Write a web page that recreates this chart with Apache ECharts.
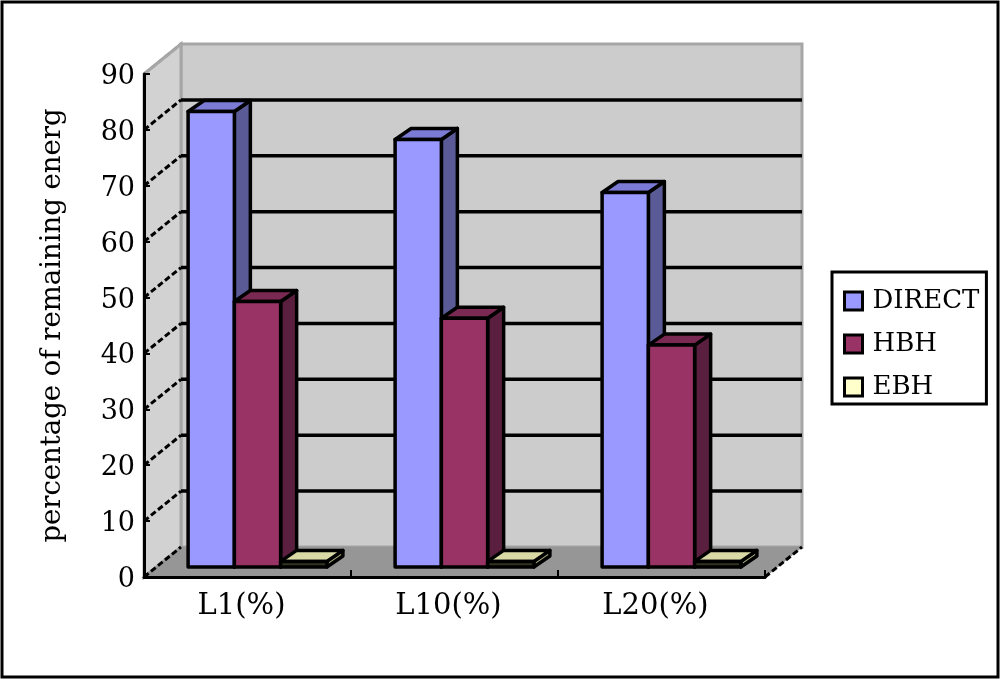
<!DOCTYPE html>
<html>
<head>
<meta charset="utf-8">
<script src="https://cdn.jsdelivr.net/npm/echarts@6/dist/echarts.min.js"></script>
<style>
html, body { margin: 0; padding: 0; background: #fff; }
#main { width: 1000px; height: 680px; }
</style>
</head>
<body>
<div id="main"></div>
<script>
const categories = ["L1(%)", "L10(%)", "L20(%)"];
const direct = [81.5, 76.5, 67];
const hbh = [47.5, 44.5, 39.7];
const ebh = [1, 1, 1];
const yTicks = [0, 10, 20, 30, 40, 50, 60, 70, 80, 90];

const FONT = "DejaVu Serif";
// depth of the fake 3d box and of the bars
const WALL_DX = 37, WALL_DY = -30;
const BAR_DX = 16, BAR_DY = -11;
const BAR_SHIFT_X = 10, BAR_SHIFT_Y = -10;
const BAR_RATIO = 0.2235;

function renderWalls(params, api) {
  const c = params.coordSys;
  const x0 = c.x, x1 = c.x + c.width, y0 = c.y, y1 = c.y + c.height;
  const grey = "#a6a6a6";
  return {
    type: "group",
    children: [
      { type: "polygon", shape: { points: [[x0 + WALL_DX, y0 + WALL_DY], [x1 + WALL_DX, y0 + WALL_DY], [x1 + WALL_DX, y1 + WALL_DY], [x0 + WALL_DX, y1 + WALL_DY]] },
        style: { fill: "#cccccc", stroke: grey, lineWidth: 3 } },
      { type: "polygon", shape: { points: [[x0, y0], [x0 + WALL_DX, y0 + WALL_DY], [x0 + WALL_DX, y1 + WALL_DY], [x0, y1]] },
        style: { fill: "#d2d2d2", stroke: grey, lineWidth: 3 } },
      { type: "polygon", shape: { points: [[x0, y1], [x0 + WALL_DX, y1 + WALL_DY], [x1 + WALL_DX, y1 + WALL_DY], [x1, y1]] },
        style: { fill: "#969696", stroke: "#969696", lineWidth: 1 } },
      { type: "line", shape: { x1: x1, y1: y1, x2: x1 + WALL_DX, y2: y1 + WALL_DY },
        style: { stroke: "#000", lineWidth: 3, lineDash: [6, 3] } }
    ]
  };
}

function renderGridline(params, api) {
  const c = params.coordSys;
  const v = api.value(0);
  const y = api.coord([0, v])[1];
  const x0 = c.x;
  const top = v === yTicks[yTicks.length - 1];
  const children = [];
  children.push({ type: "line", shape: { x1: x0, y1: y, x2: x0 + WALL_DX, y2: y + WALL_DY },
    style: { stroke: top ? "#a6a6a6" : "#000", lineWidth: 3, lineDash: [6, 3] } });
  if (v !== 0 && !top) {
    children.push({ type: "line", shape: { x1: x0 + WALL_DX, y1: y + WALL_DY, x2: x0 + c.width + WALL_DX, y2: y + WALL_DY },
      style: { stroke: "#000", lineWidth: 3.5 } });
  }
  return { type: "group", children: children };
}

function makeBar(slot, front, side, topFace) {
  return function (params, api) {
    const p = api.coord([api.value(0), api.value(1)]);
    const base = api.coord([api.value(0), 0]);
    const band = api.size([1, 0])[0];
    const w = band * BAR_RATIO;
    const x = p[0] - w * 1.5 + w * slot + BAR_SHIFT_X;
    const yTop = p[1] + BAR_SHIFT_Y;
    const yBot = base[1] + BAR_SHIFT_Y;
    const line = { stroke: "#000", lineWidth: 3.5, lineJoin: "round" };
    return {
      type: "group",
      children: [
        { type: "polygon", shape: { points: [[x + w, yTop], [x + w + BAR_DX, yTop + BAR_DY], [x + w + BAR_DX, yBot + BAR_DY], [x + w, yBot]] },
          style: Object.assign({ fill: side }, line) },
        { type: "polygon", shape: { points: [[x, yTop], [x + BAR_DX, yTop + BAR_DY], [x + w + BAR_DX, yTop + BAR_DY], [x + w, yTop]] },
          style: Object.assign({ fill: topFace }, line) },
        { type: "rect", shape: { x: x, y: yTop, width: w, height: yBot - yTop },
          style: Object.assign({ fill: front }, line) }
      ]
    };
  };
}

function barSeries(name, values, slot, color, front, side, topFace) {
  return {
    name: name,
    type: "custom",
    z: 3,
    clip: false,
    itemStyle: { color: color },
    renderItem: makeBar(slot, front, side, topFace),
    data: values.map((v, i) => [i, v])
  };
}

const legendIcon = (color) => ({ color: color, borderColor: "#000", borderWidth: 3 });

const option = {
  backgroundColor: "#fff",
  animation: false,
  graphic: [
    { type: "rect", shape: { x: 2, y: 2, width: 996, height: 675 }, style: { fill: "none", stroke: "#000", lineWidth: 3 }, silent: true }
  ],
  grid: { left: 144, top: 74, width: 621, height: 503 },
  legend: {
    orient: "vertical",
    left: 832,
    top: 272,
    padding: [16, 7, 4, 11],
    itemWidth: 18,
    itemHeight: 18,
    itemGap: 17,
    backgroundColor: "#fff",
    borderColor: "#000",
    borderWidth: 3,
    borderRadius: 0,
    textStyle: { fontFamily: FONT, fontSize: 26, color: "#000", padding: [0, 0, 0, 5] },
    data: [
      { name: "DIRECT", icon: "rect", itemStyle: legendIcon("#9999ff") },
      { name: "HBH", icon: "rect", itemStyle: legendIcon("#993366") },
      { name: "EBH", icon: "rect", itemStyle: legendIcon("#ffffcc") }
    ]
  },
  xAxis: {
    type: "category",
    data: categories,
    z: 5,
    axisLine: { lineStyle: { color: "#000", width: 3 } },
    axisTick: { show: true, inside: true, length: 7, alignWithLabel: false, lineStyle: { color: "#000", width: 2 } },
    axisLabel: { fontFamily: FONT, fontSize: 29, color: "#000", margin: 15, padding: [0, 12, 0, 0] }
  },
  yAxis: {
    type: "value",
    min: 0,
    max: 90,
    interval: 10,
    z: 5,
    name: "percentage of remaining energ",
    nameLocation: "middle",
    nameRotate: 90,
    nameGap: 77,
    nameTextStyle: { fontFamily: FONT, fontSize: 27.5, color: "#000" },
    splitLine: { show: false },
    axisLine: { show: true, lineStyle: { color: "#000", width: 3 } },
    axisTick: { show: true, inside: true, length: 6, lineStyle: { color: "#000", width: 2 } },
    axisLabel: { fontFamily: FONT, fontSize: 27, color: "#000", margin: 9, verticalAlign: "top", lineHeight: 6 }
  },
  series: [
    { type: "custom", z: 1, silent: true, clip: false, renderItem: renderWalls, data: [[0]] },
    { type: "custom", z: 2, silent: true, clip: false, renderItem: renderGridline, data: yTicks.map((v) => [v]) },
    barSeries("DIRECT", direct, 0, "#9999ff", "#9999ff", "#5a5a96", "#7b7bd6"),
    barSeries("HBH", hbh, 1, "#993366", "#993366", "#5a1f3f", "#7a2a52"),
    barSeries("EBH", ebh, 2, "#ffffcc", "#33331f", "#a9a97e", "#d9d9a6")
  ]
};

const myChart = echarts.init(document.getElementById("main"), null, { renderer: "canvas" });
myChart.setOption(option);
</script>
</body>
</html>
